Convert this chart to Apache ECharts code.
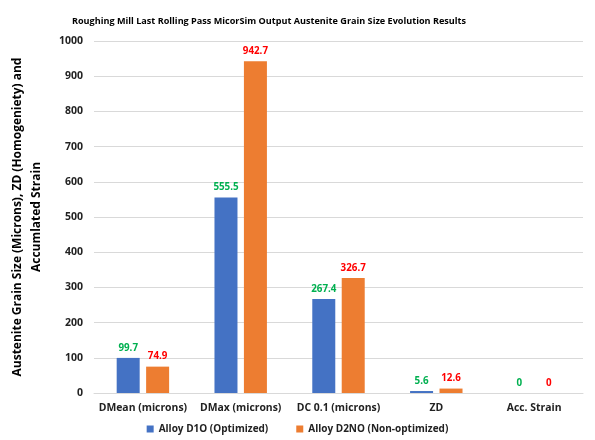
<!DOCTYPE html>
<html>
<head>
<meta charset="utf-8">
<script src="https://cdn.jsdelivr.net/npm/echarts@6/dist/echarts.min.js"></script>
<style>
html,body{margin:0;padding:0;background:#fff;}
#chart{width:595px;height:440px;}
</style>
</head>
<body>
<div id="chart"></div>
<script>
// Output parameters of the last roughing pass
const categories = ['DMean (microns)', 'DMax (microns)', 'DC 0.1 (microns)', 'ZD', 'Acc. Strain'];
const alloyD1O = [99.7, 555.5, 267.4, 5.6, 0];
const alloyD2NO = [74.9, 942.7, 326.7, 12.6, 0];
const yTicks = { min: 0, max: 1000, interval: 100 };

const font = '"Open Sans", "Noto Sans", sans-serif';
const yNameLine1 = 'Austenite Grain Size (Microns), ZD (Homogeniety) and';
const yNameLine2 = 'Accumlated Strain';

// size the long axis title so its first line runs ~319px along the axis
function fitFontSize(text, targetWidth, weight) {
  const ctx = document.createElement('canvas').getContext('2d');
  ctx.font = weight + ' 100px ' + font;
  const w = ctx.measureText(text).width;
  return w > 0 ? Math.min(14, Math.max(9, 100 * targetWidth / w)) : 12;
}
const yNameSize = fitFontSize(yNameLine1, 319, 'bold');

const chart = echarts.init(document.getElementById('chart'), null, { renderer: 'canvas' });

chart.setOption({
  animation: false,
  textStyle: { fontFamily: font },
  title: {
    text: 'Roughing Mill Last Rolling Pass MicorSim Output Austenite Grain Size Evolution Results',
    left: 264,
    textAlign: 'center',
    top: 12,
    textStyle: { fontSize: 9.1, fontWeight: 'bold', color: '#000', fontFamily: font }
  },
  legend: {
    bottom: 1,
    left: 'center',
    itemWidth: 7,
    itemHeight: 7,
    itemGap: 28,
    icon: 'rect',
    textStyle: { fontSize: 10, fontWeight: 'bold', color: '#222', fontFamily: font },
    data: ['Alloy D1O (Optimized)', 'Alloy D2NO (Non-optimized)']
  },
  grid: { left: 81, right: 12, top: 41, bottom: 47 },
  xAxis: {
    type: 'category',
    data: categories,
    axisTick: { show: false },
    axisLine: { lineStyle: { color: '#d9d9d9' } },
    axisLabel: { interval: 0, fontSize: 10.4, fontWeight: 'bold', color: '#222', margin: 10, fontFamily: font }
  },
  yAxis: {
    type: 'value',
    min: yTicks.min,
    max: yTicks.max,
    interval: yTicks.interval,
    name: yNameLine1 + '\n' + yNameLine2,
    nameLocation: 'middle',
    nameGap: 48,
    nameTextStyle: { fontSize: yNameSize, fontWeight: 'bold', color: '#000', lineHeight: 19, fontFamily: font },
    axisLine: { show: false },
    axisTick: { show: false },
    splitLine: { lineStyle: { color: '#d9d9d9' } },
    axisLabel: {
      fontSize: 10.5, fontWeight: 'bold', color: '#222', margin: 11, fontFamily: font,
      formatter: function (v) { return String(v); }
    }
  },
  series: [
    {
      name: 'Alloy D1O (Optimized)',
      type: 'bar',
      data: alloyD1O,
      barWidth: 23,
      barGap: '28%',
      itemStyle: { color: '#4472C4' },
      label: { show: true, position: 'top', distance: 5, color: '#00B050', fontSize: 9.8, fontWeight: 'bold', fontFamily: font }
    },
    {
      name: 'Alloy D2NO (Non-optimized)',
      type: 'bar',
      data: alloyD2NO,
      barWidth: 23,
      itemStyle: { color: '#ED7D31' },
      label: { show: true, position: 'top', distance: 5, color: '#FF0000', fontSize: 9.8, fontWeight: 'bold', fontFamily: font }
    }
  ]
});
</script>
</body>
</html>
